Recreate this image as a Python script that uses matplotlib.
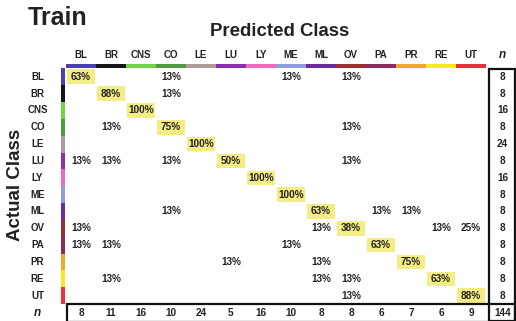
import matplotlib.pyplot as plt
from matplotlib.patches import Rectangle

plt.rcParams['font.family'] = ['Liberation Sans', 'DejaVu Sans']

# class names and their colour keys
classes = ['BL', 'BR', 'CNS', 'CO', 'LE', 'LU', 'LY', 'ME', 'ML', 'OV', 'PA', 'PR', 'RE', 'UT']
class_colors = ['#4a3fb5', '#151515', '#6fd44a', '#4f9a3c', '#b09a9a', '#8c2fae', '#f06ac0',
                '#8f9ee0', '#6a2aa0', '#9a3030', '#8a2c62', '#f0a830', '#f5ea20', '#e8323a']

# percentages, rows = actual, cols = predicted (0 = blank)
pct = [
    [63, 0, 0, 13, 0, 0, 0, 13, 0, 13, 0, 0, 0, 0],
    [0, 88, 0, 13, 0, 0, 0, 0, 0, 0, 0, 0, 0, 0],
    [0, 0, 100, 0, 0, 0, 0, 0, 0, 0, 0, 0, 0, 0],
    [0, 13, 0, 75, 0, 0, 0, 0, 0, 13, 0, 0, 0, 0],
    [0, 0, 0, 0, 100, 0, 0, 0, 0, 0, 0, 0, 0, 0],
    [13, 13, 0, 13, 0, 50, 0, 0, 0, 13, 0, 0, 0, 0],
    [0, 0, 0, 0, 0, 0, 100, 0, 0, 0, 0, 0, 0, 0],
    [0, 0, 0, 0, 0, 0, 0, 100, 0, 0, 0, 0, 0, 0],
    [0, 0, 0, 13, 0, 0, 0, 0, 63, 0, 13, 13, 0, 0],
    [13, 0, 0, 0, 0, 0, 0, 0, 13, 38, 0, 0, 13, 25],
    [13, 13, 0, 0, 0, 0, 0, 13, 0, 0, 63, 0, 0, 0],
    [0, 0, 0, 0, 0, 13, 0, 0, 13, 0, 0, 75, 0, 0],
    [0, 13, 0, 0, 0, 0, 0, 0, 13, 13, 0, 0, 63, 0],
    [0, 0, 0, 0, 0, 0, 0, 0, 0, 13, 0, 0, 0, 88],
]
row_n = [8, 8, 16, 8, 24, 8, 16, 8, 8, 8, 8, 8, 8, 8]
col_n = [8, 11, 16, 10, 24, 5, 16, 10, 8, 8, 6, 7, 6, 9]
total_n = 144

K = len(classes)
txt = '#222222'
fs = 7.2
lab_fs = 7.0

fig = plt.figure(figsize=(5.16, 3.21), dpi=100)
ax = fig.add_axes([66 / 516, 0.0, 450 / 516, 252.7 / 321])
ax.set_xlim(-0.5, K + 0.5)
ax.set_ylim(K + 0.5, -0.5)
ax.axis('off')

# cells
for i in range(K):
    for j in range(K):
        v = pct[i][j]
        if i == j:
            ax.add_patch(Rectangle((j - 0.46, i - 0.43), 0.92, 0.86, color='#f4ec84', lw=0))
        if v:
            ax.text(j, i, f'{v}%', ha='center', va='center', fontsize=fs,
                    fontweight='bold', color=txt)

# colour keys
for k, c in enumerate(class_colors):
    ax.add_patch(Rectangle((k - 0.5, -0.75), 1.0, 0.22, color=c, lw=0, clip_on=False))
    ax.add_patch(Rectangle((-0.68, k - 0.5), 0.13, 1.0, color=c, lw=0, clip_on=False))

# labels
for k, name in enumerate(classes):
    ax.text(k, -1.3, name, ha='center', va='center', fontsize=lab_fs, fontweight='bold', color=txt)
    ax.text(-1.45, k, name, ha='center', va='center', fontsize=lab_fs, fontweight='bold', color=txt)
ax.text(K + 0.05, -1.3, 'n', ha='center', va='center', fontsize=8.5, fontweight='bold',
        style='italic', color=txt)
ax.text(-1.45, K, 'n', ha='center', va='center', fontsize=8.5, fontweight='bold',
        style='italic', color=txt)

# totals
for i, n in enumerate(row_n):
    ax.text(K + 0.05, i, str(n), ha='center', va='center', fontsize=fs, fontweight='bold', color=txt)
for j, n in enumerate(col_n):
    ax.text(j, K, str(n), ha='center', va='center', fontsize=fs, fontweight='bold', color=txt)
ax.text(K + 0.05, K, str(total_n), ha='center', va='center', fontsize=fs, fontweight='bold', color=txt)

# boxes
ax.add_patch(Rectangle((K - 0.4, -0.45), 0.88, K + 0.95, fill=False, ec='#111111', lw=1.6,
                       clip_on=False))
ax.add_patch(Rectangle((-0.48, K - 0.5), K + 0.96, 1.05, fill=False, ec='#111111', lw=1.6,
                       clip_on=False))

fig.text(28 / 516, 1 - 18 / 321, 'Train', ha='left', va='center', fontsize=18,
         fontweight='bold', color=txt)
fig.text(280 / 516, 1 - 32 / 321, 'Predicted Class', ha='center', va='center', fontsize=13.4,
         fontweight='bold', color=txt)
fig.text(16 / 516, 1 - 185 / 321, 'Actual Class', ha='center', va='center', fontsize=13.5,
         fontweight='bold', rotation=90, color=txt)

fig.savefig('out.png', dpi=100)
